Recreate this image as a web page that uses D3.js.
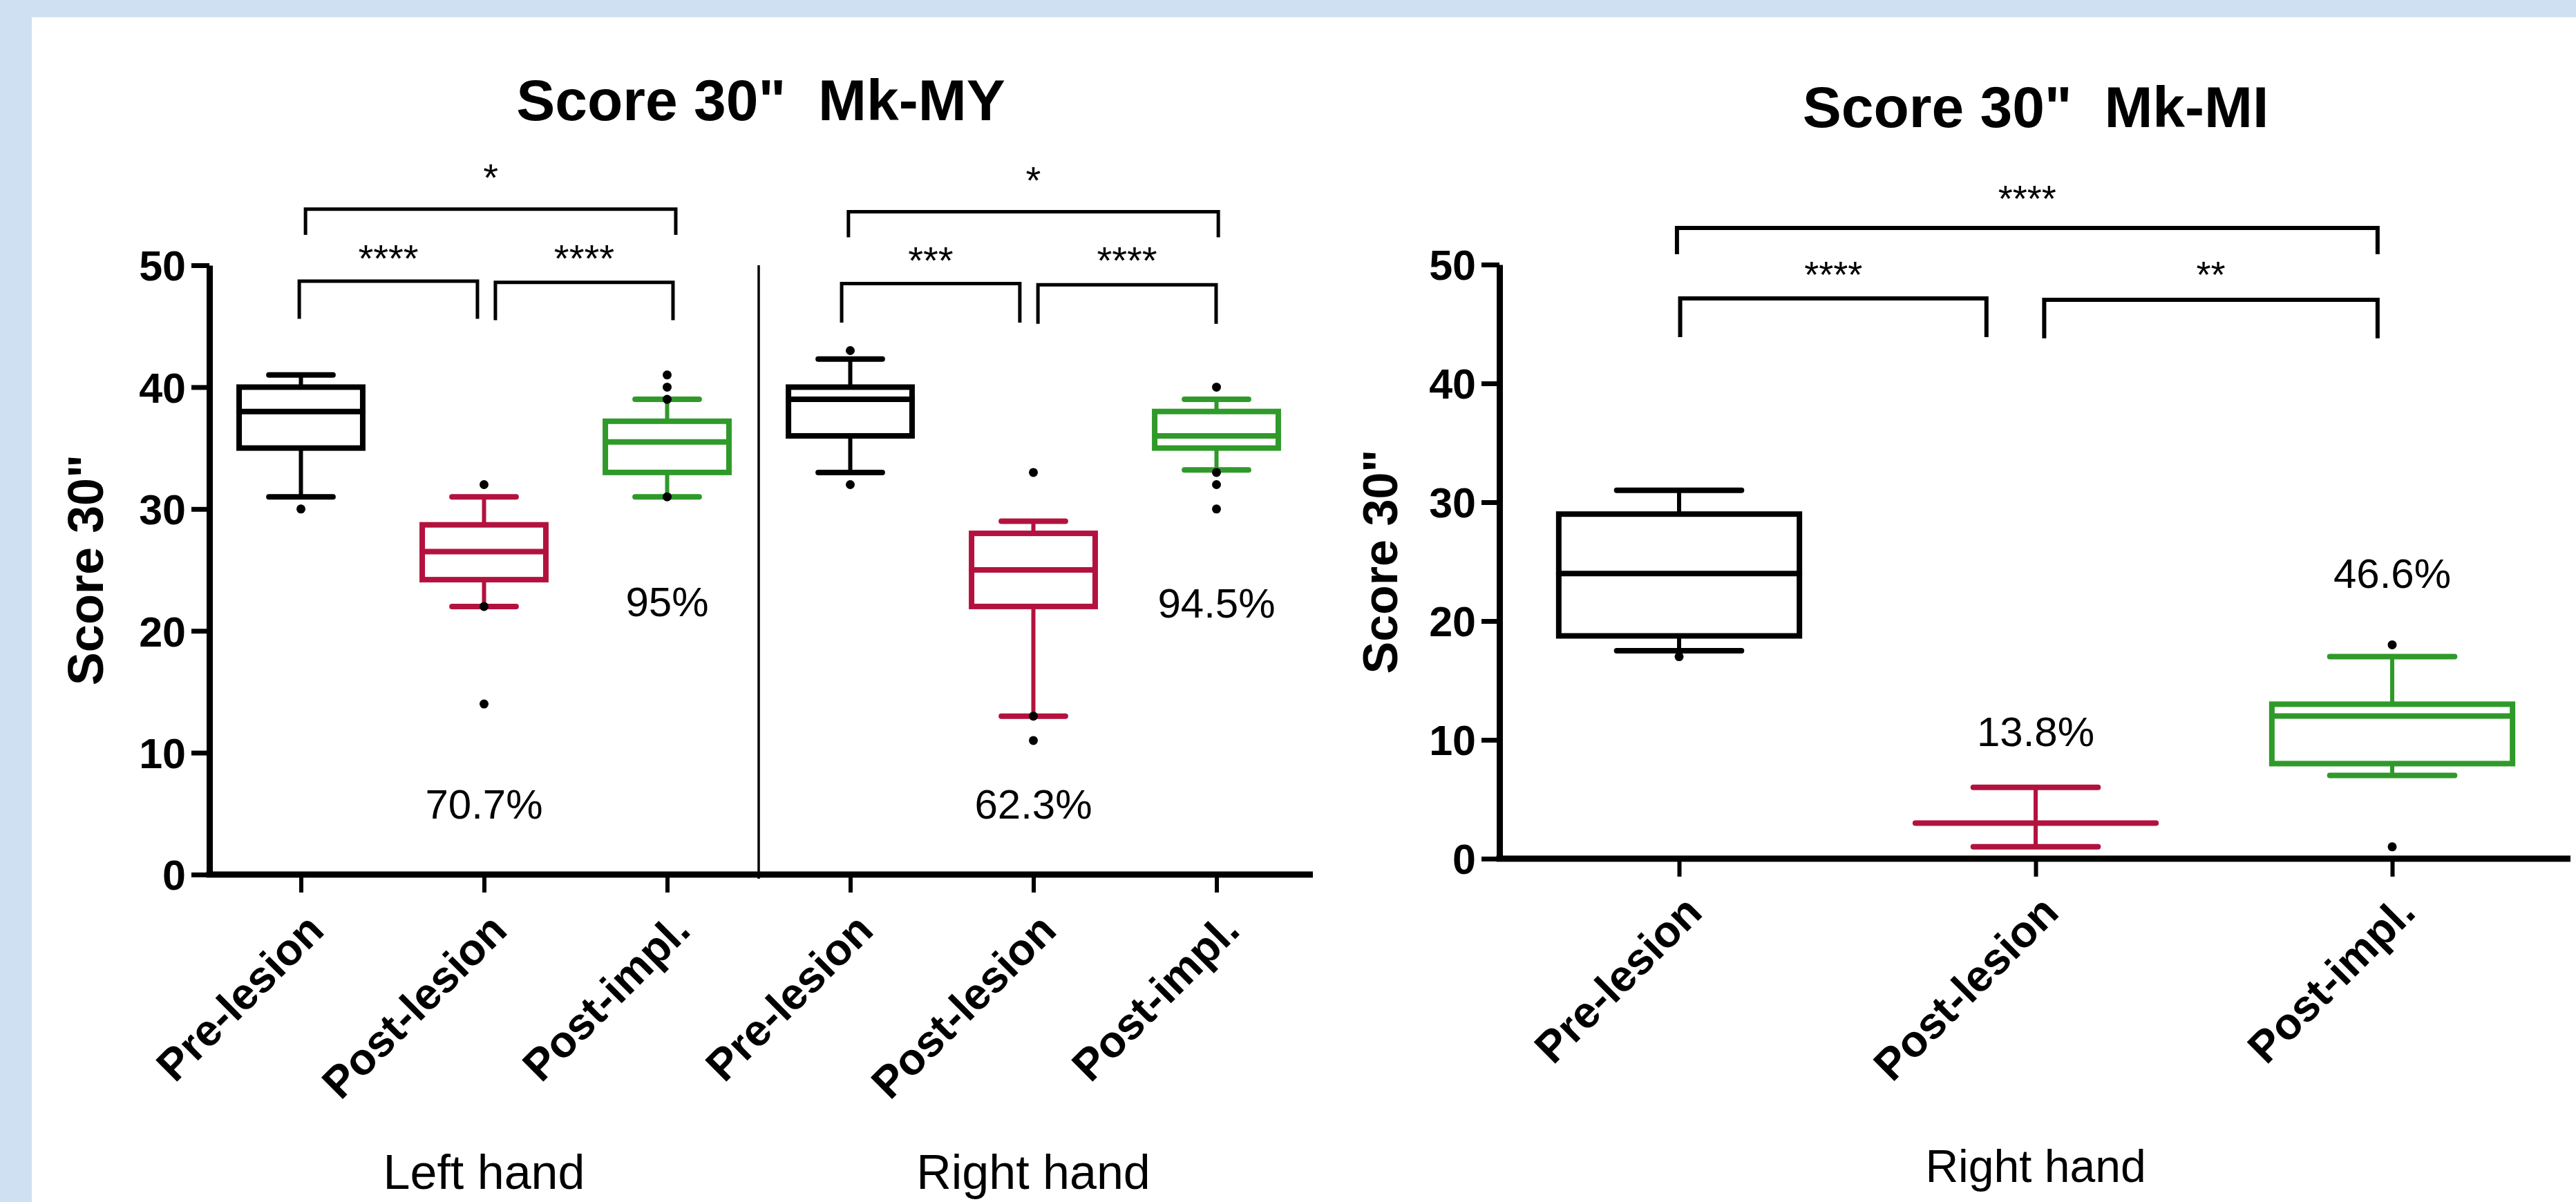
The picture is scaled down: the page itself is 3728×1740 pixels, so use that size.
<!DOCTYPE html>
<html>
<head>
<meta charset="utf-8">
<script src="https://cdn.jsdelivr.net/npm/d3@7"></script>
<style>
  html, body { margin: 0; padding: 0; background: #cfe0f2; }
  svg { display: block; }
  text { font-family: "Liberation Sans", Arial, Helvetica, sans-serif; }
</style>
</head>
<body>
<svg id="chart" width="3728" height="1740"></svg>
<script>
// ---------------- DATA ----------------
// Chart 1: Score 30"  Mk-MY
const myTitle = 'Score 30"  Mk-MY';
const myCategories = ["L-Pre", "L-Post", "L-Impl", "R-Pre", "R-Post", "R-Impl"];
const myTickLabels = ["Pre-lesion", "Post-lesion", "Post-impl.", "Pre-lesion", "Post-lesion", "Post-impl."];
const myPhases = ["pre", "post", "impl", "pre", "post", "impl"];
const myWhiskerLow  = [31, 22, 31, 33, 13, 33.2];
const myQ1          = [35, 24.2, 33, 36, 22, 35];
const myMedian      = [38, 26.5, 35.5, 39, 25, 36];
const myQ3          = [40, 28.7, 37.2, 40, 28, 38];
const myWhiskerHigh = [41, 31, 39, 42.3, 29, 39];
const myOutliers    = [[30], [32, 22, 14], [41, 40, 39, 31], [43, 32], [33, 13, 11], [40, 33, 32, 30]];
const myGroups = [{ label: "Left hand", cat: "L-Post" }, { label: "Right hand", cat: "R-Post" }];
const myPercents = [
  { cat: "L-Post", value: 4.6, text: "70.7%" },
  { cat: "L-Impl", value: 21.2, text: "95%" },
  { cat: "R-Post", value: 4.6, text: "62.3%" },
  { cat: "R-Impl", value: 21.1, text: "94.5%" }
];
// brackets: from/to in category-index units, level/drop/labelLevel in score units
const myBrackets = [
  { from: -0.009, to: 0.964, level: 48.7, drop: 45.6, label: "****", labelLevel: 49.5 },
  { from: 1.062, to: 2.032, level: 48.6, drop: 45.5, label: "****", labelLevel: 49.5 },
  { from: 0.025, to: 2.047, level: 54.6, drop: 52.5, label: "*", labelLevel: 56.1 },
  { from: 2.953, to: 3.926, level: 48.5, drop: 45.3, label: "***", labelLevel: 49.3 },
  { from: 4.025, to: 4.998, level: 48.4, drop: 45.2, label: "****", labelLevel: 49.3 },
  { from: 2.99, to: 5.01, level: 54.4, drop: 52.3, label: "*", labelLevel: 55.9 }
];

// Chart 2: Score 30"  Mk-MI
const miTitle = 'Score 30"  Mk-MI';
const miCategories = ["Pre", "Post", "Impl"];
const miTickLabels = ["Pre-lesion", "Post-lesion", "Post-impl."];
const miPhases = ["pre", "post", "impl"];
const miWhiskerLow  = [17.5, 1, 7];
const miQ1          = [18.75, 3, 8];
const miMedian      = [24, 3, 12];
const miQ3          = [29, 3, 13];
const miWhiskerHigh = [31, 6, 17];
const miOutliers    = [[17], [], [18, 1]];
const miGroups = [{ label: "Right hand", cat: "Post" }];
const miPercents = [
  { cat: "Post", value: 9.5, text: "13.8%" },
  { cat: "Impl", value: 22.8, text: "46.6%" }
];
const miBrackets = [
  { from: 0.003, to: 0.862, level: 47.15, drop: 43.9, label: "****", labelLevel: 48.1 },
  { from: 1.024, to: 1.959, level: 47.03, drop: 43.8, label: "**", labelLevel: 48.1 },
  { from: -0.006, to: 1.959, level: 53.08, drop: 50.87, label: "****", labelLevel: 54.5 }
];

const yTicks = [0, 10, 20, 30, 40, 50];
const yLabel = 'Score 30"';

// ---------------- STYLE ----------------
const phaseColor = { pre: "#000000", post: "#b3123f", impl: "#2f9a2a" };
const FONT = '"Liberation Sans", Arial, Helvetica, sans-serif';

const svg = d3.select("#chart");
svg.append("rect").attr("x", 0).attr("y", 0).attr("width", 3728).attr("height", 1740).attr("fill", "#cfe0f2");
svg.append("rect").attr("x", 46).attr("y", 25).attr("width", 3728 - 46).attr("height", 1740 - 25).attr("fill", "#ffffff");

function drawChart(cfg) {
  const g = svg.append("g");
  const x = d3.scalePoint().domain(cfg.categories).range(cfg.xRange).padding(0.5);
  const y = d3.scaleLinear().domain([0, 50]).range(cfg.yRange);
  const step = x.step();
  const xi = d3.scaleLinear().domain([0, cfg.categories.length - 1])
    .range([x(cfg.categories[0]), x(cfg.categories[cfg.categories.length - 1])]);
  const boxW = step * 0.675;
  const capW = step * 0.35;

  // title
  g.append("text").attr("x", cfg.titleX).attr("y", cfg.titleY)
    .attr("text-anchor", "middle").style("white-space", "pre")
    .attr("font-size", 84).attr("font-weight", "bold").text(cfg.title);

  // y label
  g.append("text")
    .attr("transform", `translate(${cfg.yLabelX},${(cfg.yRange[0] + cfg.yRange[1]) / 2}) rotate(-90)`)
    .attr("text-anchor", "middle").attr("font-size", cfg.yLabelSize).attr("font-weight", "bold")
    .text(yLabel);

  // divider
  if (cfg.divider) {
    const dx = (x(cfg.categories[2]) + x(cfg.categories[3])) / 2;
    g.append("line").attr("x1", dx).attr("x2", dx).attr("y1", y(50)).attr("y2", y(0) + 6)
      .attr("stroke", "#000").attr("stroke-width", 3.5);
  }

  // boxes
  const data = cfg.categories.map((c, i) => ({
    cat: c, phase: cfg.phases[i], lo: cfg.lo[i], q1: cfg.q1[i], med: cfg.med[i],
    q3: cfg.q3[i], hi: cfg.hi[i], out: cfg.out[i]
  }));
  const bg = g.selectAll(".box").data(data).enter().append("g").attr("class", "box");
  bg.each(function (d) {
    const s = d3.select(this);
    const cx = x(d.cat);
    const col = phaseColor[d.phase];
    s.append("line").attr("x1", cx).attr("x2", cx).attr("y1", y(d.hi)).attr("y2", y(d.q3))
      .attr("stroke", col).attr("stroke-width", 6);
    s.append("line").attr("x1", cx).attr("x2", cx).attr("y1", y(d.q1)).attr("y2", y(d.lo))
      .attr("stroke", col).attr("stroke-width", 6);
    [d.hi, d.lo].forEach(v => {
      s.append("line").attr("x1", cx - capW / 2).attr("x2", cx + capW / 2).attr("y1", y(v)).attr("y2", y(v))
        .attr("stroke", col).attr("stroke-width", 8).attr("stroke-linecap", "round");
    });
    s.append("rect").attr("x", cx - boxW / 2).attr("width", boxW)
      .attr("y", y(d.q3)).attr("height", Math.max(0, y(d.q1) - y(d.q3)))
      .attr("fill", "none").attr("stroke", col).attr("stroke-width", 8);
    s.append("line").attr("x1", cx - boxW / 2).attr("x2", cx + boxW / 2).attr("y1", y(d.med)).attr("y2", y(d.med))
      .attr("stroke", col).attr("stroke-width", 8).attr("stroke-linecap", "round");
    s.selectAll("circle").data(d.out).enter().append("circle")
      .attr("cx", cx).attr("cy", v => y(v)).attr("r", 6.5).attr("fill", "#000");
  });

  // y axis
  const yAxis = g.append("g").attr("transform", `translate(${cfg.yAxisX},0)`)
    .call(d3.axisLeft(y).tickValues(yTicks).tickSize(26).tickSizeOuter(0).tickPadding(8));
  yAxis.select(".domain").attr("stroke", "#000").attr("stroke-width", 9);
  yAxis.selectAll(".tick line").attr("stroke", "#000").attr("stroke-width", 7);
  yAxis.selectAll(".tick text").attr("font-size", 61).attr("font-weight", "bold")
    .attr("font-family", FONT).attr("fill", "#000").attr("dy", "0.36em");

  // x axis
  const xAxis = g.append("g").attr("transform", `translate(0,${y(0)})`)
    .call(d3.axisBottom(x).tickSize(26).tickSizeOuter(0)
      .tickFormat((c) => cfg.tickLabels[cfg.categories.indexOf(c)]));
  xAxis.select(".domain").attr("d", `M${cfg.yAxisX - 4.5},0H${cfg.xAxisEnd}`)
    .attr("stroke", "#000").attr("stroke-width", 9);
  xAxis.selectAll(".tick line").attr("stroke", "#000").attr("stroke-width", 6);
  xAxis.selectAll(".tick text")
    .attr("x", 0).attr("y", 0).attr("dy", 0)
    .attr("transform", `translate(${cfg.tickDX},${cfg.tickDY}) rotate(-45)`)
    .attr("text-anchor", "end").attr("font-size", cfg.tickSize).attr("font-weight", "bold")
    .attr("font-family", FONT).attr("fill", "#000");

  // group labels
  g.selectAll(".grp").data(cfg.groups).enter().append("text").attr("class", "grp")
    .attr("x", d => x(d.cat)).attr("y", cfg.groupY).attr("text-anchor", "middle")
    .attr("font-size", cfg.groupSize).text(d => d.label);

  // percent labels
  g.selectAll(".pct").data(cfg.percents).enter().append("text").attr("class", "pct")
    .attr("x", d => x(d.cat)).attr("y", d => y(d.value)).attr("text-anchor", "middle")
    .attr("font-size", 60).text(d => d.text);

  // brackets
  const br = g.selectAll(".br").data(cfg.brackets).enter().append("g").attr("class", "br");
  br.append("path")
    .attr("d", d => `M${xi(d.from)},${y(d.drop)}V${y(d.level)}H${xi(d.to)}V${y(d.drop)}`)
    .attr("fill", "none").attr("stroke", "#000").attr("stroke-width", cfg.bracketWidth);
  br.append("text")
    .attr("x", d => (xi(d.from) + xi(d.to)) / 2).attr("y", d => y(d.labelLevel))
    .attr("text-anchor", "middle").attr("font-size", cfg.starSize).text(d => d.label);
}

drawChart({
  title: myTitle, titleX: 1101, titleY: 174,
  categories: myCategories, tickLabels: myTickLabels, phases: myPhases,
  lo: myWhiskerLow, q1: myQ1, med: myMedian, q3: myQ3, hi: myWhiskerHigh, out: myOutliers,
  groups: myGroups, percents: myPercents, brackets: myBrackets,
  xRange: [303, 1893], yRange: [1266, 384], yAxisX: 303, xAxisEnd: 1900,
  yLabelX: 149, yLabelSize: 72, divider: true,
  tickDX: 36, tickDY: 84, tickSize: 64, groupY: 1721, groupSize: 70, starSize: 56, bracketWidth: 5
});

drawChart({
  title: miTitle, titleX: 2946, titleY: 184,
  categories: miCategories, tickLabels: miTickLabels, phases: miPhases,
  lo: miWhiskerLow, q1: miQ1, med: miMedian, q3: miQ3, hi: miWhiskerHigh, out: miOutliers,
  groups: miGroups, percents: miPercents, brackets: miBrackets,
  xRange: [2172, 3720], yRange: [1243, 383], yAxisX: 2170, xAxisEnd: 3720,
  yLabelX: 2022, yLabelSize: 70, divider: false,
  tickDX: 36, tickDY: 81, tickSize: 64, groupY: 1711, groupSize: 66, starSize: 54, bracketWidth: 6
});
</script>
</body>
</html>
